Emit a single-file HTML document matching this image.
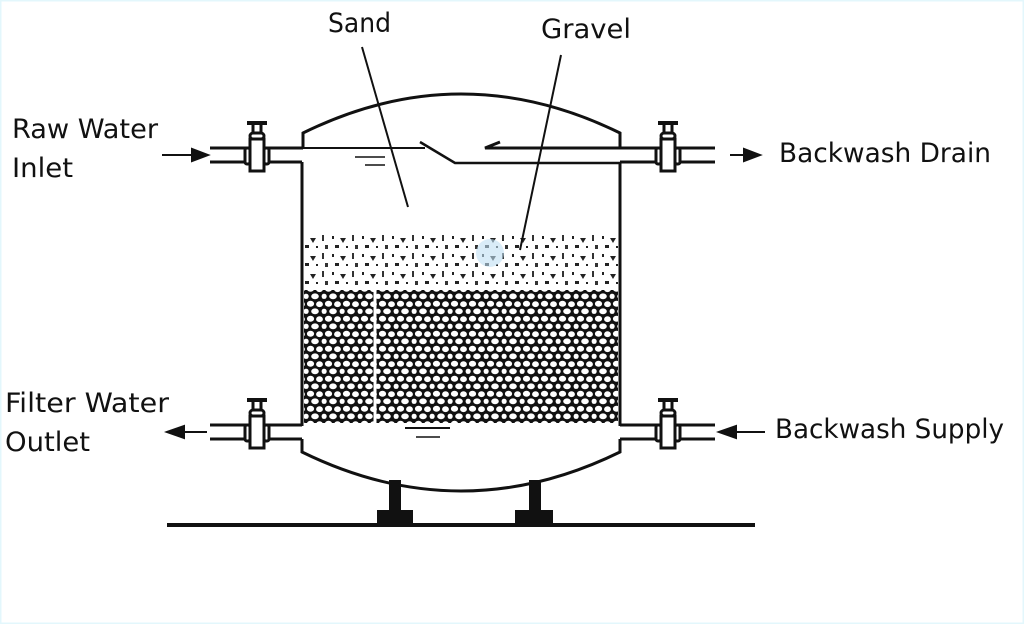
<!DOCTYPE html>
<html><head><meta charset="utf-8"><style>
html,body{margin:0;padding:0;background:#fff}
svg{display:block}
text{font-family:"DejaVu Sans Condensed","Liberation Sans",sans-serif;font-size:27px;fill:#111}
</style></head><body>
<svg width="1024" height="624" viewBox="0 0 1024 624" xmlns="http://www.w3.org/2000/svg">
<defs>
<pattern id="grav" width="18" height="15" patternUnits="userSpaceOnUse">
<rect width="18" height="15" fill="#111"/>
<ellipse cx="4.5" cy="3.8" rx="3.6" ry="3" fill="#fff"/>
<ellipse cx="13.5" cy="4.2" rx="3.4" ry="2.9" fill="#fff"/>
<ellipse cx="9" cy="11.3" rx="3.8" ry="2.9" fill="#fff"/>
<ellipse cx="0.5" cy="11.3" rx="2.2" ry="2.6" fill="#fff"/>
<ellipse cx="17.6" cy="11.3" rx="2" ry="2.6" fill="#fff"/>
</pattern>
<pattern id="sand" width="30" height="18" patternUnits="userSpaceOnUse">
<rect x="2" y="2" width="2" height="3" fill="#222"/>
<polygon points="10,4 16,4 13,9" fill="#222"/>
<rect x="22" y="1" width="2" height="6" fill="#333"/>
<rect x="5" y="11" width="4" height="3" fill="#222"/>
<rect x="16" y="12" width="2" height="2" fill="#222"/>
<rect x="25" y="11" width="3" height="4" fill="#333"/>
</pattern>
<g id="valve" fill="#fff" stroke="#111" stroke-width="3">
<line x1="-10" y1="-32" x2="10" y2="-32" stroke-width="4"/>
<line x1="-4" y1="-32" x2="-4" y2="-22"/><line x1="4" y1="-32" x2="4" y2="-22"/>
<rect x="-7" y="-22" width="14" height="6" rx="3"/>
<rect x="-7" y="-16" width="14" height="32"/>
<rect x="-12" y="-7" width="5" height="16" rx="2"/>
<rect x="7" y="-7" width="5" height="16" rx="2"/>
</g>
</defs>
<rect x="0.5" y="0.5" width="1023" height="623" fill="none" stroke="#e3f7fc" stroke-width="2"/>

<rect x="304" y="232" width="314" height="56" fill="url(#sand)"/>
<rect x="304" y="290" width="314" height="133" fill="url(#grav)"/>
<line x1="375" y1="290" x2="375" y2="423" stroke="#fff" stroke-width="3"/>
<circle cx="490" cy="253" r="14" fill="#bfe0f4" opacity="0.6"/>

<g fill="none" stroke="#111" stroke-width="3">
<path d="M303,148 L303,133 Q461,55 620,133 L620,148"/>
<line x1="302" y1="162" x2="302" y2="426"/>
<line x1="620" y1="162" x2="620" y2="426"/>
<line x1="210" y1="148" x2="303" y2="148"/>
<line x1="210" y1="162" x2="302" y2="162"/>
<line x1="303" y1="148" x2="425" y2="148" stroke-width="2"/>
<polyline points="420,142 430,148 455,163 620,163" stroke-width="2.5"/>
<polyline points="500,142 485,148 715,148"/>
<line x1="620" y1="162" x2="715" y2="162"/>
<line x1="210" y1="425" x2="302" y2="425"/>
<line x1="210" y1="439" x2="302" y2="439"/>
<line x1="620" y1="425" x2="715" y2="425"/>
<line x1="620" y1="439" x2="715" y2="439"/>
<path d="M302,439 L302,452 Q461,530 620,452 L620,439"/>
<line x1="167" y1="525" x2="755" y2="525" stroke-width="4"/>
<line x1="362" y1="47" x2="408" y2="207" stroke-width="2"/>
<line x1="561" y1="55" x2="520" y2="250" stroke-width="2"/>
<line x1="355" y1="157" x2="385" y2="157" stroke-width="1.5"/>
<line x1="365" y1="165" x2="385" y2="165" stroke-width="1.5"/>
<line x1="405" y1="428" x2="450" y2="428" stroke-width="2"/>
<line x1="416" y1="437" x2="440" y2="437" stroke-width="1.5"/>
</g>
<rect x="389" y="480" width="12" height="32" fill="#111"/>
<rect x="529" y="480" width="12" height="32" fill="#111"/>
<rect x="377" y="510" width="36" height="15" fill="#111"/>
<rect x="515" y="510" width="38" height="15" fill="#111"/>

<use href="#valve" x="257" y="155"/>
<use href="#valve" x="668" y="155"/>
<use href="#valve" x="257" y="432"/>
<use href="#valve" x="668" y="432"/>

<g stroke="#111" stroke-width="2" fill="#111">
<line x1="162" y1="155" x2="195" y2="155"/><polygon points="208,155 192,149 192,161"/>
<line x1="730" y1="155" x2="745" y2="155"/><polygon points="760,155 744,149 744,161"/>
<line x1="185" y1="432" x2="207" y2="432"/><polygon points="167,432 184,426 184,438"/>
<line x1="735" y1="432" x2="765" y2="432"/><polygon points="719,432 736,426 736,438"/>
</g>

<text x="328" y="32" textLength="63" lengthAdjust="spacingAndGlyphs">Sand</text>
<text x="541" y="38" textLength="90" lengthAdjust="spacingAndGlyphs">Gravel</text>
<text x="12" y="138" textLength="146" lengthAdjust="spacingAndGlyphs">Raw Water</text>
<text x="12" y="177" textLength="61" lengthAdjust="spacingAndGlyphs">Inlet</text>
<text x="779" y="162" textLength="212" lengthAdjust="spacingAndGlyphs">Backwash Drain</text>
<text x="5" y="412" textLength="164" lengthAdjust="spacingAndGlyphs">Filter Water</text>
<text x="5" y="451" textLength="85" lengthAdjust="spacingAndGlyphs">Outlet</text>
<text x="775" y="438" textLength="229" lengthAdjust="spacingAndGlyphs">Backwash Supply</text>
</svg>
</body></html>
